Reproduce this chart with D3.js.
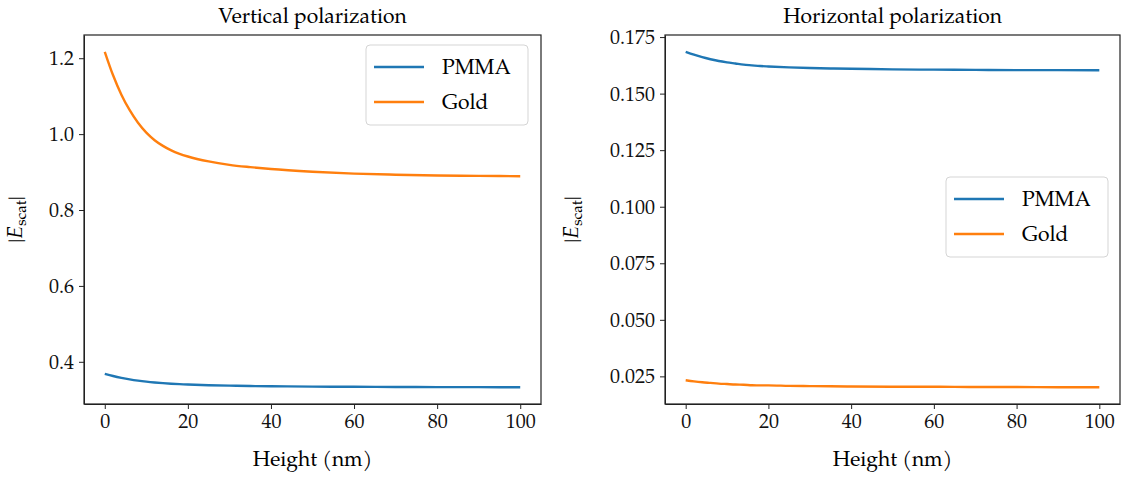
<!DOCTYPE html>
<html>
<head>
<meta charset="utf-8">
<script src="https://cdn.jsdelivr.net/npm/d3@7"></script>
<style>
  body { margin: 0; background: #fff; }
  svg, svg text { font-family: "TeX Gyre Pagella", "Palatino Linotype", Palatino, "Liberation Serif", serif; }
  svg { display: block; }
  .domain { stroke: #222; }
  .tick line { stroke: #222; }
  .tick text { fill: #111; font-size: 20px; }
</style>
</head>
<body>
<svg id="chart" width="1123" height="478"></svg>
<script>
// Heights (nm) where values were read
const heights = [0, 2, 4, 6, 8, 10, 12, 14, 16, 18, 20, 25, 30, 35, 40, 50, 60, 70, 80, 90, 100];

// Vertical polarization
const vertPMMA = [0.368, 0.3625, 0.3578, 0.3538, 0.3505, 0.3478, 0.3456, 0.3438, 0.3423, 0.3411, 0.3401,
                  0.3383, 0.3371, 0.3362, 0.3356, 0.3347, 0.3341, 0.3337, 0.3334, 0.3332, 0.333];
const vertGold = [1.217, 1.155, 1.104, 1.063, 1.030, 1.004, 0.984, 0.969, 0.957, 0.948, 0.941,
                  0.928, 0.919, 0.913, 0.908, 0.901, 0.896, 0.893, 0.891, 0.890, 0.889];

// Horizontal polarization
const horPMMA = [0.1685, 0.1672, 0.1661, 0.1652, 0.1644, 0.1638, 0.1633, 0.1628, 0.1625, 0.1622, 0.1620,
                 0.1616, 0.1613, 0.1611, 0.1610, 0.1607, 0.1606, 0.1605, 0.1604, 0.1604, 0.1603];
const horGold = [0.0233, 0.0228, 0.0224, 0.0221, 0.0218, 0.0216, 0.0214, 0.0213, 0.0211, 0.0210, 0.0210,
                 0.0208, 0.0207, 0.0206, 0.0205, 0.0204, 0.0204, 0.0203, 0.0203, 0.0202, 0.0202];

const seriesNames = ["PMMA", "Gold"];
const colors = ["#1f77b4", "#ff7f0e"];
const xTicks = [0, 20, 40, 60, 80, 100];
const vertTicks = [0.4, 0.6, 0.8, 1.0, 1.2];
const horTicks = [0.025, 0.050, 0.075, 0.100, 0.125, 0.150, 0.175];

const svg = d3.select("#chart");

const panels = [
    { title: "Vertical polarization", series: [vertPMMA, vertGold], ticks: vertTicks, fmt: d3.format(".1f"),
      left: 84, right: 541, labelX: 22, legend: { x: 366, y: 45 } },
    { title: "Horizontal polarization", series: [horPMMA, horGold], ticks: horTicks, fmt: d3.format(".3f"),
      left: 665, right: 1120, labelX: 578, legend: { x: 946, y: 177 } }
];
const plotTop = 35, plotBottom = 404;

panels.forEach(p => {
    const x = d3.scaleLinear().domain([-5, 105]).range([p.left, p.right]);

    // matplotlib-style 5% margin
    const all = p.series.flat();
    const [lo, hi] = d3.extent(all);
    const pad = (hi - lo) * 0.05;
    const y = d3.scaleLinear().domain([lo - pad, hi + pad]).range([plotBottom, plotTop]);

    const g = svg.append("g");

    g.append("g")
        .attr("transform", `translate(0,${plotBottom})`)
        .call(d3.axisBottom(x).tickValues(xTicks).tickSize(5).tickSizeOuter(0).tickPadding(5));

    g.append("g")
        .attr("transform", `translate(${p.left},0)`)
        .call(d3.axisLeft(y).tickValues(p.ticks).tickFormat(p.fmt).tickSize(5).tickSizeOuter(0).tickPadding(5));

    // frame
    g.append("rect")
        .attr("x", p.left).attr("y", plotTop)
        .attr("width", p.right - p.left).attr("height", plotBottom - plotTop)
        .attr("fill", "none").attr("stroke", "#222").attr("stroke-width", 1.2);

    const line = d3.line()
        .x((d, i) => x(heights[i]))
        .y(d => y(d))
        .curve(d3.curveMonotoneX);

    p.series.forEach((s, i) => {
        g.append("path")
            .datum(s)
            .attr("d", line)
            .attr("fill", "none")
            .attr("stroke", colors[i])
            .attr("stroke-width", 2.4);
    });

    // title
    g.append("text")
        .attr("x", (p.left + p.right) / 2).attr("y", 23)
        .attr("text-anchor", "middle")
        .attr("font-size", 21)
        .text(p.title);

    // x label
    g.append("text")
        .attr("x", (p.left + p.right) / 2).attr("y", 466)
        .attr("text-anchor", "middle")
        .attr("font-size", 21)
        .text("Height (nm)");

    // y label |E_scat|
    const yl = g.append("text")
        .attr("transform", `translate(${p.labelX},${(plotTop + plotBottom) / 2}) rotate(-90)`)
        .attr("text-anchor", "middle")
        .attr("font-size", 21);
    yl.append("tspan").text("|");
    yl.append("tspan").attr("font-style", "italic").text("E");
    yl.append("tspan").attr("font-size", 15).attr("dy", 4).text("scat");
    yl.append("tspan").attr("dy", -4).text("|");

    // legend
    const lg = g.append("g").attr("transform", `translate(${p.legend.x},${p.legend.y})`);
    lg.append("rect")
        .attr("width", 162).attr("height", 80).attr("rx", 4)
        .attr("fill", "#fff").attr("fill-opacity", 0.8)
        .attr("stroke", "#d5d5d5");
    seriesNames.forEach((name, i) => {
        const cy = 22 + i * 35;
        lg.append("line")
            .attr("x1", 8).attr("x2", 58).attr("y1", cy).attr("y2", cy)
            .attr("stroke", colors[i]).attr("stroke-width", 2.4);
        lg.append("text")
            .attr("x", 76).attr("y", cy + 7)
            .attr("font-size", 21)
            .text(name);
    });
});
</script>
</body>
</html>
